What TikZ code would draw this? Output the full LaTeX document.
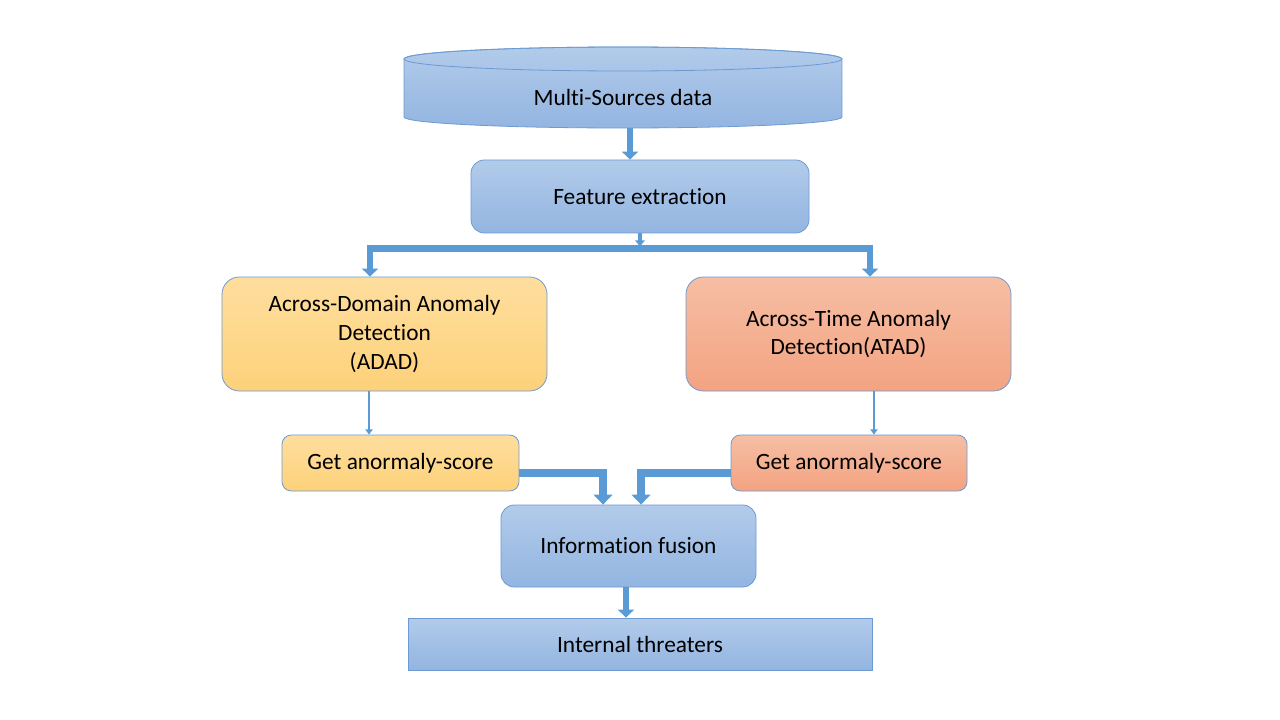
\documentclass[tikz,border=0pt]{standalone}
\usepackage{fontspec}
\setmainfont{Carlito}[Ligatures={NoCommon,NoContextual}, Contextuals={NoAlternate}]
\usetikzlibrary{arrows.meta}

\definecolor{blueTop}{HTML}{B2CBEA}
\definecolor{blueBot}{HTML}{93B5E1}
\definecolor{yellowTop}{HTML}{FEDE9E}
\definecolor{yellowBot}{HTML}{FDD17A}
\definecolor{salmonTop}{HTML}{F6BEA4}
\definecolor{salmonBot}{HTML}{F3A381}
\definecolor{boxEdge}{HTML}{6D9AD2}
\definecolor{arrowFill}{HTML}{5B9BD5}

\tikzset{
    box/.style={draw=boxEdge, line width=0.6pt, rounded corners=10pt, align=center,
        inner sep=0pt, font=\fontsize{17.5}{21.5}\selectfont},
    bluebox/.style={box, top color=blueTop, bottom color=blueBot},
    yellowbox/.style={box, top color=yellowTop, bottom color=yellowBot},
    salmonbox/.style={box, top color=salmonTop, bottom color=salmonBot},
    bigarrow/.style={draw=arrowFill, line width=5.8pt, line join=miter,
        -{Triangle[length=7.5pt, width=14pt]}},
    midarrow/.style={draw=arrowFill, line width=5pt, line join=miter,
        -{Triangle[length=6pt, width=12pt]}},
    smallarrow/.style={draw=arrowFill, line width=3.5pt,
        -{Triangle[length=4.5pt, width=7pt]}},
    thinarrow/.style={draw=arrowFill, line width=2pt,
        -{Triangle[length=4pt, width=5.5pt]}}
}

\begin{document}
\begin{tikzpicture}[x=0.75pt, y=0.75pt]
    \useasboundingbox (0,0) rectangle (1280,-720);

    % Multi-source database (cylinder)
    \shade[top color=blueTop, bottom color=blueBot, draw=boxEdge, line width=0.6pt]
        (404,-59) -- (404,-117)
        arc[start angle=180, end angle=360, x radius=219, y radius=11]
        -- (842,-59)
        arc[start angle=0, end angle=180, x radius=219, y radius=12];
    \draw[boxEdge, line width=0.6pt] (623,-59) ellipse[x radius=219, y radius=12];
    \node[font=\fontsize{17.5}{21.5}\selectfont] (src) at (623,-97) {Multi-Sources data};
    \coordinate (srcOut) at (630,-128);

    % Boxes
    \node[bluebox, minimum width=253.5pt, minimum height=54.75pt] (feat) at (640,-196.5) {Feature extraction};
    \node[yellowbox, rounded corners=13pt, minimum width=243.75pt, minimum height=85.5pt] (adad) at (384.5,-334)
        {Across-Domain Anomaly\\Detection\\(ADAD)};
    \node[salmonbox, rounded corners=13pt, minimum width=243.75pt, minimum height=85.5pt] (atad) at (848.5,-334)
        {Across-Time Anomaly\\Detection(ATAD)};
    \node[yellowbox, rounded corners=7pt, minimum width=177.75pt, minimum height=42pt] (scoreL) at (400.5,-463)
        {Get anormaly-score};
    \node[salmonbox, rounded corners=7pt, minimum width=177pt, minimum height=42pt] (scoreR) at (849,-463)
        {Get anormaly-score};
    \node[bluebox, minimum width=191.25pt, minimum height=61.5pt] (fusion) at (628.5,-546) {Information fusion};
    \node[bluebox, rounded corners=0pt, minimum width=348pt, minimum height=39pt] (threat) at (640,-644)
        {Internal threaters};

    % Connectors
    \draw[midarrow] (srcOut) -- (srcOut |- feat.north);

    \coordinate (split) at (640,-248.5);
    \coordinate (barL) at (370,-248.5);
    \coordinate (barR) at (870,-248.5);
    \draw[smallarrow] (feat.south -| split) -- ([yshift=1.5pt]split);
    \draw[midarrow] (split) -- (barL) -- (barL |- adad.north);
    \draw[midarrow] (split) -- (barR) -- (barR |- atad.north);

    \draw[thinarrow] ([xshift=-11.6pt]adad.south) coordinate (adOut) -- (adOut |- scoreL.north);
    \draw[thinarrow] ([xshift=19.1pt]atad.south) coordinate (atOut) -- (atOut |- scoreR.north);

    \draw[bigarrow] ([yshift=-7.5pt]scoreL.east) -| ([xshift=-19.1pt]fusion.north);
    \draw[bigarrow] ([yshift=-7.5pt]scoreR.west) -| ([xshift=9.4pt]fusion.north);

    \draw[midarrow] ([xshift=-1.9pt]fusion.south) coordinate (fuOut) -- (fuOut |- threat.north);
\end{tikzpicture}
\end{document}
